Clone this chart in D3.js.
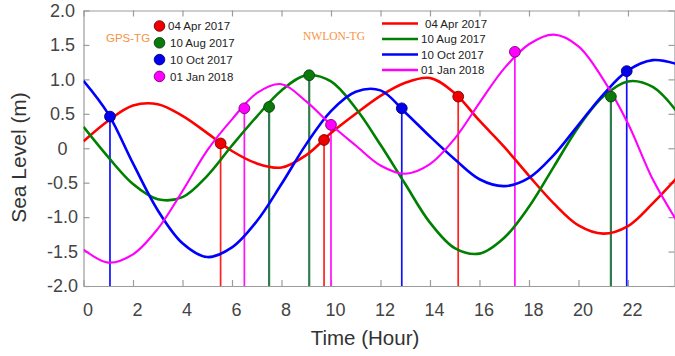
<!DOCTYPE html>
<html>
<head>
<meta charset="utf-8">
<script src="https://cdn.jsdelivr.net/npm/d3@7"></script>
<style>
  html, body { margin: 0; padding: 0; background: #fff; }
  svg { display: block; }
  text { font-family: "Liberation Sans", Arial, Helvetica, sans-serif; }
</style>
</head>
<body>
<svg id="chart" width="675" height="356"></svg>
<script>
// ---------------- data ----------------
const hours = [0,1,2,3,4,5,6,7,8,9,10,11,12,13,14,15,16,17,18,19,20,21,22,23,24];
const seriesNames = ["04 Apr 2017", "10 Aug 2017", "10 Oct 2017", "01 Jan 2018"];
const apr2017 = [0.10,0.40,0.62,0.64,0.47,0.22,-0.04,-0.22,-0.28,-0.10,0.22,0.50,0.76,0.95,1.02,0.80,0.40,0.02,-0.40,-0.80,-1.12,-1.24,-1.13,-0.80,-0.42];
const aug2017 = [0.31,-0.13,-0.52,-0.74,-0.71,-0.40,0.04,0.46,0.84,1.06,0.97,0.58,0.05,-0.52,-1.08,-1.45,-1.53,-1.30,-0.85,-0.27,0.31,0.75,0.97,0.89,0.52];
const oct2017 = [0.98,0.50,-0.22,-0.90,-1.38,-1.58,-1.44,-1.06,-0.52,0.06,0.54,0.82,0.84,0.52,0.17,-0.16,-0.45,-0.55,-0.43,-0.10,0.34,0.78,1.13,1.28,1.22];
const jan2018 = [-1.47,-1.66,-1.54,-1.17,-0.62,-0.03,0.42,0.80,0.93,0.68,0.34,0.04,-0.25,-0.37,-0.23,0.14,0.66,1.16,1.51,1.65,1.48,1.00,0.36,-0.45,-1.07];

// GPS-TG observation times (hour) and values (m)
const aprObsHour = [5.54, 9.72, 15.14];
const aprObsVal  = [0.07, 0.12, 0.75];
const augObsHour = [7.5, 9.12, 21.31];
const augObsVal  = [0.60, 1.06, 0.75];
const octObsHour = [1.07, 12.86, 21.95];
const octObsVal  = [0.46, 0.58, 1.12];
const janObsHour = [6.5, 10.0, 17.43];
const janObsVal  = [0.58, 0.34, 1.40];

const xTicks = [0,2,4,6,8,10,12,14,16,18,20,22];
const yTicks = [-2,-1.5,-1,-0.5,0,0.5,1,1.5,2];
const xTitle = "Time (Hour)";
const yTitle = "Sea Level (m)";
const leftLegendTitle = "GPS-TG";
const rightLegendTitle = "NWLON-TG";

// ---------------- styles ----------------
const lineColors = ["#ff0000", "#008000", "#0000ff", "#ff00ff"];
const stemColors = ["#ff2020", "#2e7d4f", "#1010ff", "#ff10ff"];
const markerStroke = ["#7a0000", "#0b3d0b", "#00006e", "#7a007a"];
const markerFill = ["#ee0000", "#0a7a0a", "#0000ee", "#ff00ff"];
const lineWidths = [2.6, 2.6, 2.6, 2.1];

const curves = [apr2017, aug2017, oct2017, jan2018];
const obs = [
  [aprObsHour, aprObsVal],
  [augObsHour, augObsVal],
  [octObsHour, octObsVal],
  [janObsHour, janObsVal]
];

const svg = d3.select("#chart");
const L = 83.5, R = 675, T = 10.5, B = 286;
const x = d3.scaleLinear().domain([0, 23.9]).range([L, R]);
const y = d3.scaleLinear().domain([-2, 2]).range([B, T]);

const defs = svg.append("defs");
defs.append("clipPath").attr("id", "plotclip")
  .append("rect").attr("x", L).attr("y", T - 2).attr("width", R - L).attr("height", B - T + 2);

const axisColor = "#9c9c9c";
const fmtY = d => d === 0 ? "0" : (d < 0 ? "-" : "") + Math.abs(d).toFixed(1);

// axes
const gx = svg.append("g").attr("transform", `translate(0,${B})`)
  .call(d3.axisBottom(x).tickValues(xTicks).tickSize(-6).tickSizeOuter(0).tickPadding(17).tickFormat(d3.format("d")));
const gy = svg.append("g").attr("transform", `translate(${L},0)`)
  .call(d3.axisLeft(y).tickValues(yTicks).tickSize(-6).tickSizeOuter(0).tickPadding(0).tickFormat(fmtY));
const gt = svg.append("g").attr("transform", `translate(0,${T})`)
  .call(d3.axisTop(x).tickValues(xTicks).tickSize(-6).tickSizeOuter(0).tickFormat(""));
const gr = svg.append("g").attr("transform", `translate(${R - 0.5},0)`)
  .call(d3.axisRight(y).tickValues(yTicks).tickSize(-6).tickSizeOuter(0).tickFormat(""));

[gx, gy, gt, gr].forEach(g => {
  g.select(".domain").attr("stroke", axisColor).attr("stroke-width", 1.2);
  g.selectAll(".tick line").attr("stroke", axisColor).attr("stroke-width", 1.2);
  g.selectAll(".tick text").attr("fill", "#444").style("font-size", "18px")
    .style("font-family", "'Liberation Sans', Arial, sans-serif");
});
gx.selectAll(".tick text").attr("dx", 4);
gy.selectAll(".tick text").attr("text-anchor", "middle").attr("x", -21);

// stems
const plot = svg.append("g").attr("clip-path", "url(#plotclip)");
obs.forEach((o, i) => {
  const pts = o[0].map((h, k) => [h, o[1][k]]);
  plot.append("g").selectAll("line").data(pts).join("line")
    .attr("x1", d => x(d[0])).attr("x2", d => x(d[0]))
    .attr("y1", d => y(d[1])).attr("y2", y(-2))
    .attr("stroke", stemColors[i]).attr("stroke-width", i === 1 ? 2.2 : 1.7);
});

// curves
const line = d3.line().x((d, k) => x(hours[k])).y(d => y(d)).curve(d3.curveCatmullRom.alpha(0.5));
curves.forEach((c, i) => {
  plot.append("path").datum(c).attr("d", line)
    .attr("fill", "none").attr("stroke", lineColors[i]).attr("stroke-width", lineWidths[i])
    .attr("stroke-linejoin", "round");
});

// markers
obs.forEach((o, i) => {
  const pts = o[0].map((h, k) => [h, o[1][k]]);
  svg.append("g").selectAll("circle").data(pts).join("circle")
    .attr("cx", d => x(d[0])).attr("cy", d => y(d[1])).attr("r", 5.4)
    .attr("fill", markerFill[i]).attr("stroke", markerStroke[i]).attr("stroke-width", 0.9);
});

// left legend (markers)
const ll = svg.append("g");
seriesNames.forEach((n, i) => {
  const yy = 26 + i * 16.8;
  ll.append("circle").attr("cx", 159.5).attr("cy", yy).attr("r", 5.3)
    .attr("fill", markerFill[i]).attr("stroke", markerStroke[i]).attr("stroke-width", 0.9);
  ll.append("text").attr("x", 168 + (i > 0 ? 2 : 0)).attr("y", yy + 4.2).text(n)
    .attr("fill", "#222").style("font-size", "11.5px");
});
svg.append("text").attr("x", 106).attr("y", 41.5).text(leftLegendTitle)
  .attr("fill", "#f7923f").style("font-size", "11.5px");

// right legend (lines)
const rl = svg.append("g");
seriesNames.forEach((n, i) => {
  const yy = 23.5 + i * 15.5;
  rl.append("line").attr("x1", 382).attr("x2", 418).attr("y1", yy).attr("y2", yy)
    .attr("stroke", lineColors[i]).attr("stroke-width", 2.6);
  rl.append("text").attr("x", i === 0 ? 425 : 421).attr("y", yy + 4.2).text(n)
    .attr("fill", "#222").style("font-size", "11.5px");
});
svg.append("text").attr("x", 303).attr("y", 40).text(rightLegendTitle)
  .attr("fill", "#f7923f").style("font-size", "11.5px")
  .style("font-family", "'Liberation Serif', 'Times New Roman', serif");

// axis titles
svg.append("text").attr("x", 365).attr("y", 345).attr("text-anchor", "middle")
  .text(xTitle).attr("fill", "#333").style("font-size", "20.5px");
svg.append("text").attr("transform", "translate(25.5,157.5) rotate(-90)").attr("text-anchor", "middle")
  .text(yTitle).attr("fill", "#333").style("font-size", "21px");
</script>
</body>
</html>
